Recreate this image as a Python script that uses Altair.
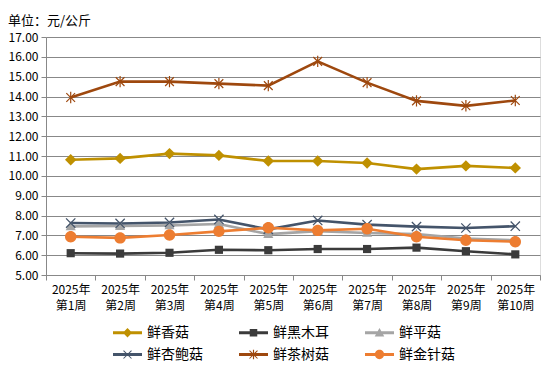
import altair as alt
import pandas as pd

weeks = ["2025年\n第1周", "2025年\n第2周", "2025年\n第3周", "2025年\n第4周", "2025年\n第5周",
         "2025年\n第6周", "2025年\n第7周", "2025年\n第8周", "2025年\n第9周", "2025年\n第10周"]
series_names = ["鲜香菇", "鲜黑木耳", "鲜平菇", "鲜杏鲍菇", "鲜茶树菇", "鲜金针菇"]

xianggu = [10.81, 10.88, 11.12, 11.03, 10.75, 10.75, 10.65, 10.34, 10.50, 10.40]
heimuer = [6.10, 6.08, 6.12, 6.27, 6.25, 6.31, 6.31, 6.38, 6.20, 6.04]
pinggu = [7.45, 7.47, 7.50, 7.57, 7.06, 7.21, 7.12, 7.06, 6.84, 6.75]
xingbaogu = [7.62, 7.60, 7.65, 7.80, 7.30, 7.75, 7.54, 7.44, 7.37, 7.46]
chashugu = [13.95, 14.75, 14.75, 14.65, 14.55, 15.77, 14.70, 13.78, 13.53, 13.80]
jinzhengu = [6.93, 6.87, 7.02, 7.20, 7.38, 7.25, 7.33, 6.93, 6.75, 6.68]

colors = ["#BF9000", "#3B3B3B", "#A5A5A5", "#44546A", "#9E480E", "#ED7D31"]

all_values = [xianggu, heimuer, pinggu, xingbaogu, chashugu, jinzhengu]
rows = []
for name, vals in zip(series_names, all_values):
    for w, v in zip(weeks, vals):
        rows.append({"week": w, "price": v, "series": name, "legend": name})
df = pd.DataFrame(rows)

# plot markers (unit paths, drawn at size 144 -> 12px box)
plot_shapes = [
    "M0,-0.95L0.95,0L0,0.95L-0.95,0Z",
    "M-0.68,-0.68H0.68V0.68H-0.68Z",
    "M0,-0.85L0.85,0.65L-0.85,0.65Z",
    "M-0.85,-0.7L-0.7,-0.85L0.85,0.7L0.7,0.85Z M-0.7,0.85L-0.85,0.7L0.7,-0.85L0.85,-0.7Z",
    "M-0.8,-0.66L-0.66,-0.8L0.8,0.66L0.66,0.8Z M-0.66,0.8L-0.8,0.66L0.66,-0.8L0.8,-0.66Z M-0.1,-0.95H0.1V0.95H-0.1Z",
    "M-0.95,0A0.95,0.95 0 1,1 0.95,0A0.95,0.95 0 1,1 -0.95,0Z",
]
line_seg = "M-1,-0.1H1V0.1H-1Z "
legend_shapes = [
    line_seg + "M0,-0.32L0.32,0L0,0.32L-0.32,0Z",
    line_seg + "M-0.26,-0.26H0.26V0.26H-0.26Z",
    line_seg + "M0,-0.33L0.33,0.25L-0.33,0.25Z",
    line_seg + "M-0.3,-0.25L-0.25,-0.3L0.3,0.25L0.25,0.3Z M-0.25,0.3L-0.3,0.25L0.25,-0.3L0.3,-0.25Z",
    line_seg + "M-0.3,-0.25L-0.25,-0.3L0.3,0.25L0.25,0.3Z M-0.25,0.3L-0.3,0.25L0.25,-0.3L0.3,-0.25Z M-0.04,-0.32H0.04V0.32H-0.04Z",
    line_seg + "M-0.32,0A0.32,0.32 0 1,1 0.32,0A0.32,0.32 0 1,1 -0.32,0Z",
]

font = "Noto Sans CJK SC"

x_enc = alt.X("week:N", sort=weeks, title=None,
              scale=alt.Scale(paddingInner=0, paddingOuter=0),
              axis=alt.Axis(labelExpr="split(datum.label, '\\n')", labelAngle=0,
                            labelFont=font, labelFontSize=12, labelColor="#000000",
                            labelLineHeight=16, labelPadding=4,
                            tickBand="extent", tickSize=5, tickColor="#888888",
                            domainColor="#888888", grid=False))
y_enc = alt.Y("price:Q", title=None,
              scale=alt.Scale(domain=[5, 17], nice=False, zero=False),
              axis=alt.Axis(values=list(range(5, 18)), format=".2f",
                            labelFont=font, labelFontSize=12, labelColor="#000000",
                            labelPadding=3, tickSize=5, tickColor="#888888",
                            domainColor="#888888", gridColor="#888888", gridWidth=1))

color_plot = alt.Color("series:N", scale=alt.Scale(domain=series_names, range=colors), legend=None)

base = alt.Chart(df)

lines = base.mark_line(strokeWidth=2.6).encode(x=x_enc, y=y_enc, color=color_plot,
                                                 detail="series:N")
points = base.mark_point(filled=True, opacity=1, size=144, strokeWidth=0).encode(
    x=x_enc, y=y_enc, color=color_plot,
    shape=alt.Shape("series:N", scale=alt.Scale(domain=series_names, range=plot_shapes), legend=None))

legend_layer = base.transform_filter("false").mark_point(filled=True, opacity=1).encode(
    x=x_enc, y=y_enc,
    color=alt.Color("legend:N", scale=alt.Scale(domain=series_names, range=colors), title=None,
                    legend=alt.Legend(orient="none", legendX=67, legendY=281, columns=3,
                                      direction="horizontal", symbolSize=841,
                                      symbolStrokeWidth=0, symbolOpacity=1,
                                      labelFont=font, labelFontSize=14, labelColor="#000000",
                                      labelOffset=5, columnPadding=36, rowPadding=-9)),
    shape=alt.Shape("legend:N", scale=alt.Scale(domain=series_names, range=legend_shapes), title=None))

chart = alt.layer(lines, points, legend_layer).resolve_scale(
    color="independent", shape="independent"
).properties(
    width=494, height=238,
    autosize=alt.AutoSizeParams(type="none"),
    padding={"left": 38, "top": 29, "right": 2, "bottom": 92},
    title=alt.TitleParams("单位：元/公斤", anchor="start", offset=3,
                          font=font, fontSize=13, fontWeight="normal", color="#000000"),
).configure_view(stroke=None).configure(background="#ffffff")

chart.save("out.html", embed_options={"renderer": "svg", "actions": False})
